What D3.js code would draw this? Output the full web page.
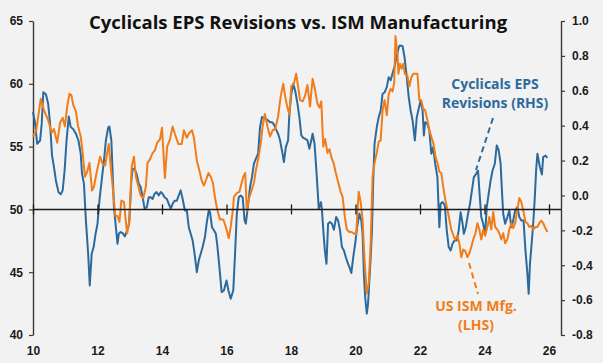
<!DOCTYPE html>
<html>
<head>
<meta charset="utf-8">
<script src="https://cdn.jsdelivr.net/npm/d3@7"></script>
<style>
  html, body { margin: 0; padding: 0; background: #f2f2f2; }
  svg { display: block; font-family: "Open Sans", "DejaVu Sans", sans-serif; }
  .tick-label { font-size: 12px; font-weight: 700; fill: #1a1a1a; }
</style>
</head>
<body>
<div class="js-chart"></div>
<script>
// US ISM manufacturing (LHS), decimal years
var ismDates = [
  2010.00, 2010.10, 2010.24, 2010.34, 2010.47, 2010.58, 2010.65, 2010.75, 2010.84, 2010.92, 2010.99,
  2011.06, 2011.13, 2011.19, 2011.25, 2011.33, 2011.40, 2011.48, 2011.54, 2011.61, 2011.68, 2011.75, 2011.83, 2011.89, 2011.97,
  2012.08, 2012.16, 2012.24, 2012.30, 2012.35, 2012.41, 2012.49, 2012.55, 2012.61, 2012.68, 2012.74, 2012.82, 2012.88, 2012.92, 2012.99,
  2013.06, 2013.13, 2013.19, 2013.27, 2013.34, 2013.42, 2013.50, 2013.55, 2013.63, 2013.71, 2013.78, 2013.85, 2013.94,
  2014.00, 2014.04, 2014.09, 2014.16, 2014.25, 2014.33, 2014.40, 2014.51, 2014.61, 2014.68, 2014.77, 2014.85, 2014.93, 2014.99,
  2015.08, 2015.16, 2015.23, 2015.30, 2015.36, 2015.44, 2015.51, 2015.58, 2015.64, 2015.71, 2015.80, 2015.90, 2015.98,
  2016.07, 2016.13, 2016.20, 2016.23, 2016.32, 2016.40, 2016.47, 2016.52, 2016.58, 2016.63, 2016.71, 2016.79, 2016.85, 2016.91, 2016.99,
  2017.06, 2017.12, 2017.19, 2017.27, 2017.35, 2017.43, 2017.51, 2017.60, 2017.68, 2017.76, 2017.82, 2017.88, 2017.95,
  2018.01, 2018.09, 2018.16, 2018.22, 2018.28, 2018.36, 2018.43, 2018.51, 2018.59, 2018.67, 2018.74, 2018.82, 2018.88, 2018.94,
  2019.00, 2019.06, 2019.13, 2019.19, 2019.26, 2019.33, 2019.39, 2019.47, 2019.54, 2019.60, 2019.67, 2019.73, 2019.81, 2019.88, 2019.95,
  2020.02, 2020.10, 2020.16, 2020.22, 2020.28, 2020.35, 2020.41, 2020.47, 2020.53, 2020.59, 2020.66, 2020.72, 2020.78, 2020.84, 2020.90, 2020.97,
  2021.03, 2021.09, 2021.15, 2021.20, 2021.24, 2021.30, 2021.33, 2021.38, 2021.43, 2021.48, 2021.53, 2021.60, 2021.67, 2021.73, 2021.79, 2021.85, 2021.92, 2021.98,
  2022.04, 2022.10, 2022.16, 2022.23, 2022.29, 2022.35, 2022.42, 2022.48, 2022.54, 2022.60, 2022.66, 2022.72, 2022.79, 2022.85, 2022.91, 2022.97,
  2023.04, 2023.09, 2023.16, 2023.22, 2023.28, 2023.34, 2023.40, 2023.47, 2023.53, 2023.59, 2023.65, 2023.72, 2023.78, 2023.84, 2023.90, 2023.96,
  2024.02, 2024.09, 2024.15, 2024.21, 2024.27, 2024.33, 2024.40, 2024.46, 2024.52, 2024.58, 2024.64, 2024.71, 2024.77, 2024.83, 2024.89, 2024.95,
  2025.02, 2025.08, 2025.14, 2025.21, 2025.27, 2025.33, 2025.39, 2025.45, 2025.51, 2025.58, 2025.64, 2025.70, 2025.76, 2025.82, 2025.89, 2025.95
];
var ismValues = [
  55.8, 56.3, 58.8, 57.9, 57.1, 56.1, 56.4, 55.3, 56.9, 57.3, 56.6,
  58.2, 59.2, 59.1, 58.3, 57.8, 56.6, 55.8, 54.5, 52.6, 53.0, 53.7, 51.5, 51.8, 52.9,
  54.2, 53.6, 53.5, 54.5, 55.2, 53.4, 51.3, 49.5, 49.5, 49.0, 50.7, 50.6, 49.0, 48.1, 49.1,
  53.4, 54.2, 52.6, 51.8, 51.1, 50.9, 51.8, 53.7, 54.0, 54.5, 54.7, 55.3, 55.6,
  56.5, 54.7, 52.5, 55.0, 55.6, 56.6, 56.0, 55.2, 55.2, 56.3, 55.7, 56.1, 56.3, 55.7,
  53.9, 53.1, 52.3, 51.9, 52.3, 52.9, 52.6, 52.1, 51.0, 50.0, 49.2, 49.2, 48.6,
  47.7, 48.6, 50.0, 51.0, 51.3, 51.4, 52.1, 52.6, 52.9, 49.9, 51.0, 51.6, 52.1, 53.1, 54.1,
  55.2, 56.6, 57.6, 56.6, 55.8, 56.3, 56.4, 57.4, 59.0, 60.0, 59.0, 58.2, 57.6,
  59.8, 60.0, 60.8, 59.8, 58.7, 58.6, 59.0, 59.9, 58.2, 60.4, 59.6, 58.4, 58.1, 58.6,
  55.0, 55.6, 54.5, 54.8, 54.1, 53.6, 52.9, 52.1, 51.4, 51.0, 49.4, 48.4, 48.2, 48.2, 48.1,
  48.0, 51.4, 50.6, 49.2, 46.0, 43.3, 44.1, 47.3, 52.6, 53.7, 54.5, 55.4, 55.5, 57.9, 58.7, 57.5,
  59.2, 59.6, 59.4, 60.1, 63.8, 62.4, 60.8, 61.6, 61.2, 61.6, 60.8, 60.7, 59.8, 60.5, 60.8, 60.8, 60.8, 58.7,
  58.7, 58.0, 57.9, 57.1, 56.3, 55.8, 55.2, 54.2, 53.7, 53.0, 52.9, 51.8, 50.7, 50.0, 49.2, 48.4,
  47.9, 47.6, 47.9, 47.3, 46.2, 46.8, 46.7, 46.2, 46.5, 47.0, 47.6, 48.1, 48.9, 48.4, 47.6, 48.4,
  47.9, 48.6, 49.4, 48.4, 49.8, 48.6, 48.4, 48.1, 47.6, 48.1, 47.3, 47.6, 48.4, 48.9, 48.5, 48.9,
  50.0, 50.9, 50.6, 49.8, 49.0, 48.9, 48.6, 48.7, 48.4, 48.6, 48.6, 48.9, 49.1, 48.9, 48.5, 48.2
];

// Cyclicals EPS revisions (RHS), decimal years
var epsDates = [
  2010.00, 2010.06, 2010.13, 2010.22, 2010.27, 2010.32, 2010.40, 2010.47, 2010.53, 2010.59, 2010.65, 2010.71, 2010.79, 2010.86, 2010.92, 2010.98,
  2011.04, 2011.11, 2011.17, 2011.25, 2011.33, 2011.41, 2011.48, 2011.52, 2011.58, 2011.64, 2011.71, 2011.76, 2011.82, 2011.88, 2011.94,
  2012.00, 2012.07, 2012.13, 2012.20, 2012.26, 2012.33, 2012.37, 2012.43, 2012.47, 2012.51, 2012.57, 2012.62, 2012.66, 2012.72, 2012.78, 2012.85, 2012.92, 2012.98,
  2013.05, 2013.09, 2013.15, 2013.21, 2013.28, 2013.34, 2013.40, 2013.46, 2013.53, 2013.59, 2013.65, 2013.71, 2013.77, 2013.83, 2013.90, 2013.96,
  2014.02, 2014.08, 2014.15, 2014.21, 2014.27, 2014.33, 2014.39, 2014.46, 2014.52, 2014.58, 2014.64, 2014.71, 2014.77, 2014.83, 2014.89, 2014.95,
  2015.01, 2015.08, 2015.14, 2015.20, 2015.26, 2015.33, 2015.39, 2015.45, 2015.49, 2015.55, 2015.61, 2015.67, 2015.71, 2015.78, 2015.85, 2015.92,
  2016.00, 2016.06, 2016.13, 2016.21, 2016.27, 2016.32, 2016.38, 2016.44, 2016.50, 2016.56, 2016.60, 2016.66, 2016.73, 2016.79, 2016.85, 2016.91, 2016.98,
  2017.04, 2017.10, 2017.16, 2017.22, 2017.29, 2017.35, 2017.41, 2017.47, 2017.53, 2017.60, 2017.66, 2017.72, 2017.78, 2017.84, 2017.91, 2017.95,
  2018.01, 2018.07, 2018.13, 2018.20, 2018.26, 2018.32, 2018.38, 2018.44, 2018.51, 2018.57, 2018.63, 2018.67, 2018.73, 2018.78, 2018.82, 2018.86, 2018.93, 2018.96,
  2019.01, 2019.05, 2019.10, 2019.15, 2019.21, 2019.27, 2019.33, 2019.40, 2019.46, 2019.52, 2019.58, 2019.64, 2019.70, 2019.77, 2019.83, 2019.87, 2019.93, 2019.99,
  2020.05, 2020.12, 2020.18, 2020.22, 2020.26, 2020.30, 2020.35, 2020.39, 2020.43, 2020.47, 2020.51, 2020.55, 2020.59, 2020.66, 2020.72, 2020.78, 2020.84, 2020.90, 2020.97,
  2021.03, 2021.09, 2021.15, 2021.22, 2021.28, 2021.34, 2021.38, 2021.46, 2021.52, 2021.59, 2021.65, 2021.71, 2021.77, 2021.84, 2021.90, 2021.96,
  2022.02, 2022.08, 2022.12, 2022.16, 2022.23, 2022.29, 2022.35, 2022.41, 2022.47, 2022.54, 2022.60, 2022.64, 2022.70, 2022.77, 2022.83, 2022.89, 2022.95,
  2023.01, 2023.07, 2023.14, 2023.20, 2023.26, 2023.32, 2023.36, 2023.42, 2023.49, 2023.55, 2023.61, 2023.67, 2023.74, 2023.80, 2023.84, 2023.90, 2023.96,
  2024.02, 2024.07, 2024.13, 2024.19, 2024.25, 2024.32, 2024.38, 2024.44, 2024.50, 2024.54, 2024.58, 2024.64, 2024.71, 2024.77, 2024.83, 2024.89, 2024.95,
  2025.02, 2025.08, 2025.14, 2025.21, 2025.27, 2025.33, 2025.37, 2025.41, 2025.47, 2025.51, 2025.56, 2025.60, 2025.64, 2025.68, 2025.72, 2025.78, 2025.82, 2025.89, 2025.95
];
var epsValues = [
  0.478, 0.42, 0.296, 0.315, 0.41, 0.592, 0.58, 0.526, 0.41, 0.23, 0.162, 0.086, 0.019, 0.006, 0.029, 0.143,
  0.315, 0.453, 0.392, 0.38, 0.354, 0.315, 0.239, 0.124, 0.067, -0.143, -0.334, -0.516, -0.334, -0.296, -0.22,
  -0.162, -0.01, 0.086, 0.2, 0.315, 0.388, 0.395, 0.315, 0.124, -0.067, -0.182, -0.277, -0.22, -0.21, -0.216, -0.235, -0.2, -0.162,
  0.086, 0.153, 0.153, 0.124, 0.067, 0.048, -0.01, -0.076, -0.067, -0.01, -0.01, -0.02, 0.01, 0.019, 0.0, 0.02,
  0.01, -0.01, -0.02, -0.048, -0.076, -0.048, -0.03, -0.03, 0.0, 0.029, -0.02, -0.086, -0.086, -0.182, -0.22, -0.258,
  -0.334, -0.44, -0.373, -0.334, -0.296, -0.24, -0.153, -0.086, -0.095, -0.182, -0.2, -0.22, -0.277, -0.411, -0.554, -0.545,
  -0.487, -0.545, -0.592, -0.545, -0.315, -0.105, -0.01, 0.0, -0.01, -0.143, -0.162, -0.067, 0.048, 0.105, 0.182, 0.21, 0.239,
  0.392, 0.449, 0.446, 0.44, 0.43, 0.42, 0.42, 0.407, 0.38, 0.354, 0.316, 0.258, 0.191, 0.277, 0.316, 0.468,
  0.583, 0.64, 0.6, 0.526, 0.449, 0.344, 0.33, 0.325, 0.316, 0.268, 0.316, 0.354, 0.296, 0.162, 0.048, -0.076, -0.038, -0.086,
  -0.22, -0.315, -0.392, -0.162, -0.152, -0.162, -0.197, -0.124, -0.143, -0.2, -0.296, -0.315, -0.354, -0.392, -0.42, -0.445, -0.354, -0.277,
  -0.182, -0.105, -0.143, -0.22, -0.449, -0.583, -0.678, -0.62, -0.487, -0.354, -0.2, 0.086, 0.296, 0.392, 0.449, 0.487, 0.583, 0.59, 0.621,
  0.678, 0.66, 0.70, 0.745, 0.80, 0.85, 0.86, 0.855, 0.793, 0.678, 0.564, 0.487, 0.43, 0.315, 0.449, 0.497,
  0.545, 0.487, 0.344, 0.42, 0.41, 0.373, 0.239, 0.277, 0.182, 0.105, -0.182, -0.048, -0.038, -0.057, -0.2, -0.296, -0.315,
  -0.277, -0.258, -0.258, -0.2, -0.096, -0.162, -0.22, -0.182, -0.105, -0.048, 0.029, 0.105, 0.124, 0.143, 0.029, -0.124, -0.162,
  -0.22, -0.067, 0.01, 0.086, 0.143, 0.182, 0.287, 0.258, 0.182, 0.029, -0.105, -0.162, -0.124, -0.086, -0.182, -0.143, -0.086,
  -0.067, -0.124, -0.143, -0.143, -0.315, -0.449, -0.564, -0.392, -0.258, -0.162, -0.01, 0.143, 0.239, 0.2, 0.162, 0.12, 0.22, 0.229, 0.215
];

var leftTicks = [40, 45, 50, 55, 60, 65];
var rightTicks = [-0.8, -0.6, -0.4, -0.2, 0.0, 0.2, 0.4, 0.6, 0.8, 1.0];
var yearTicks = [2010, 2012, 2014, 2016, 2018, 2020, 2022, 2024, 2026];

var chartTitle = 'Cyclicals EPS Revisions vs. ISM Manufacturing';
var epsLabel = ['Cyclicals EPS', 'Revisions (RHS)'];
var ismLabel = ['US ISM Mfg.', '(LHS)'];

var blue = '#2c6a9d',
    orange = '#f07d1a';

// plot box (note: "top" is taken by window.top, so use plot* names)
var width = 603,
    height = 363,
    plotLeft = 33,
    plotRight = 561,
    plotTop = 21,
    plotBottom = 335;

var svg = d3.select('.js-chart').append('svg')
            .attr('width', width)
            .attr('height', height);

var x = d3.scaleLinear().domain([2010, 2026]).range([plotLeft, 549]);
var yLeft = d3.scaleLinear().domain([40, 65]).range([plotBottom, plotTop]);
var yRight = d3.scaleLinear().domain([-0.8, 1.0]).range([plotBottom, plotTop]);

// left axis
var leftAxis = svg.append('g')
   .attr('transform', `translate(${plotLeft},0)`)
   .call(d3.axisLeft(yLeft).tickValues(leftTicks).tickSize(4).tickSizeOuter(0).tickPadding(6));

// right axis
var rightAxis = svg.append('g')
   .attr('transform', `translate(${plotRight},0)`)
   .call(d3.axisRight(yRight).tickValues(rightTicks).tickSize(4).tickSizeOuter(0).tickPadding(7));

[leftAxis, rightAxis].forEach(function (axis) {
  axis.select('.domain').attr('stroke', '#3a3a3a').attr('stroke-width', 1.4);
  axis.selectAll('.tick line').attr('stroke', '#3a3a3a').attr('stroke-width', 1.2);
  axis.selectAll('.tick text').attr('class', 'tick-label').attr('font-family', null).attr('font-size', null);
});
rightAxis.selectAll('.tick text').text(function (d) { return d3.format('.1f')(d).replace('−', '-'); });

// lines
var ismLine = d3.line()
  .x(function (d, i) { return x(ismDates[i]); })
  .y(function (d) { return yLeft(d); });

var epsLine = d3.line()
  .x(function (d, i) { return x(epsDates[i]); })
  .y(function (d) { return yRight(d); });

svg.append('path')
   .datum(epsValues)
   .attr('fill', 'none')
   .attr('stroke', blue)
   .attr('stroke-width', 2)
   .attr('stroke-linejoin', 'round')
   .attr('d', epsLine);

svg.append('path')
   .datum(ismValues)
   .attr('fill', 'none')
   .attr('stroke', orange)
   .attr('stroke-width', 2)
   .attr('stroke-linejoin', 'round')
   .attr('d', ismLine);

// horizontal axis at 50, labels at the bottom
var zeroY = yLeft(50);
var xAxis = svg.append('g')
   .attr('transform', `translate(0,${zeroY})`)
   .call(d3.axisBottom(x).tickValues(yearTicks).tickSize(5).tickSizeOuter(0)
           .tickFormat(function (d) { return d3.format('02d')(d % 100); }));

xAxis.select('.domain').remove();
xAxis.insert('line', ':first-child')
     .attr('x1', plotLeft).attr('x2', plotRight)
     .attr('stroke', '#1a1a1a').attr('stroke-width', 1.5);
xAxis.selectAll('.tick line').attr('y1', -5).attr('y2', 5).attr('stroke', '#1a1a1a').attr('stroke-width', 1.3);
xAxis.selectAll('.tick text')
     .attr('class', 'tick-label')
     .attr('font-family', null).attr('font-size', null)
     .attr('y', 355 - zeroY).attr('dy', null);

// title
svg.append('text')
   .attr('x', 298).attr('y', 29)
   .attr('text-anchor', 'middle')
   .attr('font-size', 18.5)
   .attr('font-weight', 700)
   .attr('fill', '#111')
   .text(chartTitle);

// annotations
var addLabel = function (lines, cx, ys, color) {
  var t = svg.append('text')
     .attr('text-anchor', 'middle')
     .attr('font-size', 14)
     .attr('font-weight', 700)
     .attr('fill', color);
  lines.forEach(function (line, i) {
    t.append('tspan').attr('x', cx).attr('y', ys[i]).text(line);
  });
};

addLabel(epsLabel, 495, [88.5, 108], blue);
addLabel(ismLabel, 476, [311, 330], orange);

svg.append('line')
   .attr('x1', 493).attr('y1', 118).attr('x2', 476).attr('y2', 170)
   .attr('stroke', blue).attr('stroke-width', 2).attr('stroke-dasharray', '6,4');

svg.append('line')
   .attr('x1', 469).attr('y1', 263).attr('x2', 478).attr('y2', 294)
   .attr('stroke', orange).attr('stroke-width', 2).attr('stroke-dasharray', '6,4');
</script>
</body>
</html>
